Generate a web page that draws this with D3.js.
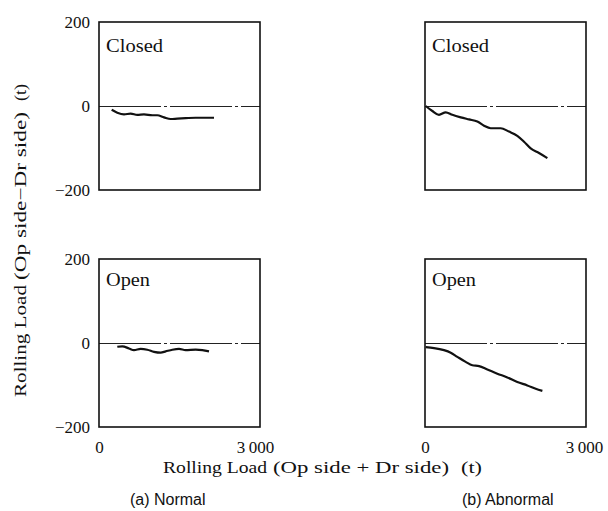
<!DOCTYPE html>
<html>
<head>
<meta charset="utf-8">
<script src="https://cdn.jsdelivr.net/npm/d3@7"></script>
<style>
  html, body { margin: 0; padding: 0; background: #fff; }
  svg { display: block; }
  .serif { font-family: "Liberation Serif", "DejaVu Serif", serif; fill: #111; }
  .sans { font-family: "Liberation Sans", "DejaVu Sans", sans-serif; fill: #111; }
</style>
</head>
<body>
<script>
// ---------- data ----------
const xTicks = [0, 3000];
const yTicks = [200, 0, -200];
const panelStates = ["Closed", "Open"];
const panelCases = ["(a) Normal", "(b) Abnormal"];
const titleParts = ["Rolling Load", "(Op side\u2212Dr side)", "(Op side + Dr side)", "(t)"];

// Normal, Closed  [sum load (t), difference (t)]
const normalClosed = [
  [236, -9], [341, -16], [466, -20], [590, -18], [714, -21], [838, -20],
  [994, -22], [1087, -22], [1211, -27], [1336, -31], [1460, -30],
  [1615, -29], [1801, -28], [1988, -28], [2143, -28]
];
// Abnormal, Closed
const abnormalClosed = [
  [13, 0], [137, -12], [261, -21], [386, -15], [510, -21], [666, -27],
  [820, -32], [975, -37], [1100, -47], [1224, -53], [1410, -53],
  [1565, -61], [1720, -71], [1845, -85], [1969, -101], [2124, -112], [2280, -124]
];
// Normal, Open
const normalOpen = [
  [341, -9], [435, -8], [559, -13], [652, -17], [776, -14], [900, -16],
  [1025, -21], [1149, -23], [1243, -20], [1367, -16], [1491, -14],
  [1615, -17], [1801, -16], [1925, -17], [2050, -20]
];
// Abnormal, Open
const abnormalOpen = [
  [13, -10], [168, -12], [354, -17], [479, -23], [603, -33], [758, -45],
  [882, -53], [1007, -55], [1162, -63], [1348, -73], [1534, -82],
  [1720, -93], [1907, -101], [2063, -109], [2187, -114]
];

// ---------- layout ----------
const W = 608, H = 511;
const pw = 161, ph = 168;
const colX = [99, 425];
const rowY = [22, 259];

const svg = d3.select("body").append("svg").attr("width", W).attr("height", H);

const x = d3.scaleLinear().domain([0, 3000]).range([0, pw]);
const y = d3.scaleLinear().domain([-200, 200]).range([ph, 0]);
const fmtX = d => d === 0 ? "0" : d3.format(",")(d).replace(",", "\u2009");
const fmtY = d => d < 0 ? "\u2212" + Math.abs(d) : String(d);

const panels = [
  { col: 0, row: 0, data: normalClosed, state: panelStates[0] },
  { col: 1, row: 0, data: abnormalClosed, state: panelStates[0] },
  { col: 0, row: 1, data: normalOpen, state: panelStates[1] },
  { col: 1, row: 1, data: abnormalOpen, state: panelStates[1] }
];

const line = d3.line().x(d => x(d[0])).y(d => y(d[1])).curve(d3.curveMonotoneX);

panels.forEach(p => {
  const g = svg.append("g").attr("transform", `translate(${colX[p.col]},${rowY[p.row]})`);

  // zero reference line (dash-dot)
  g.append("line")
    .attr("x1", 0).attr("x2", pw)
    .attr("y1", y(0) + 0.5).attr("y2", y(0) + 0.5)
    .attr("stroke", "#222").attr("stroke-width", 1)
    .attr("stroke-dasharray", "62 3 3 3");

  // data line
  g.append("path")
    .datum(p.data)
    .attr("d", line)
    .attr("fill", "none")
    .attr("stroke", "#111")
    .attr("stroke-width", 2.2)
    .attr("stroke-linejoin", "round");

  // frame
  g.append("rect")
    .attr("x", 0).attr("y", 0).attr("width", pw).attr("height", ph)
    .attr("fill", "none").attr("stroke", "#111").attr("stroke-width", 1.6);

  // state label
  g.append("text").attr("class", "serif")
    .attr("x", 7).attr("y", p.state === "Closed" ? 30 : 27)
    .attr("font-size", 19)
    .attr("textLength", p.state === "Closed" ? 57 : 44).attr("lengthAdjust", "spacingAndGlyphs")
    .text(p.state);

  // y axis labels on left column
  if (p.col === 0) {
    const ya = d3.axisLeft(y).tickValues(yTicks).tickSize(0).tickPadding(9).tickFormat(fmtY);
    const ag = g.append("g").call(ya);
    ag.select(".domain").remove();
    ag.selectAll("text").attr("class", "serif").attr("font-size", 17)
      .attr("font-family", null).attr("fill", "#111");
  }
  // x axis labels on bottom row
  if (p.row === 1) {
    const xa = d3.axisBottom(x).tickValues(xTicks).tickSize(0).tickPadding(14).tickFormat(fmtX);
    const ag = g.append("g").attr("transform", `translate(0,${ph})`).call(xa);
    ag.select(".domain").remove();
    ag.selectAll("text").attr("class", "serif").attr("font-size", 17)
      .attr("font-family", null).attr("fill", "#111")
      .attr("dx", d => d === 3000 ? (p.col === 0 ? -5 : -2) : 0);
  }
});

// ---------- axis titles (three pieces each, spaced like the reference) ----------
const yTitle = svg.append("g").attr("transform", "translate(26,0) rotate(-90)");
[[titleParts[0], -397, 112], [titleParts[1], -280, 168], [titleParts[3], -101, 17]].forEach(([t, pos, len]) => {
  yTitle.append("text").attr("class", "serif")
    .attr("x", pos).attr("y", 0).attr("font-size", 16)
    .attr("textLength", len).attr("lengthAdjust", "spacingAndGlyphs")
    .text(t);
});

[[titleParts[0], 163, 104], [titleParts[2], 273, 176], [titleParts[3], 461, 21]].forEach(([t, pos, len]) => {
  svg.append("text").attr("class", "serif")
    .attr("x", pos).attr("y", 473).attr("font-size", 16)
    .attr("textLength", len).attr("lengthAdjust", "spacingAndGlyphs")
    .text(t);
});

// captions
svg.append("text").attr("class", "sans")
  .attr("x", 130).attr("y", 505).attr("font-size", 16)
  .text(panelCases[0]);
svg.append("text").attr("class", "sans")
  .attr("x", 462).attr("y", 505).attr("font-size", 16)
  .text(panelCases[1]);
</script>
</body>
</html>
